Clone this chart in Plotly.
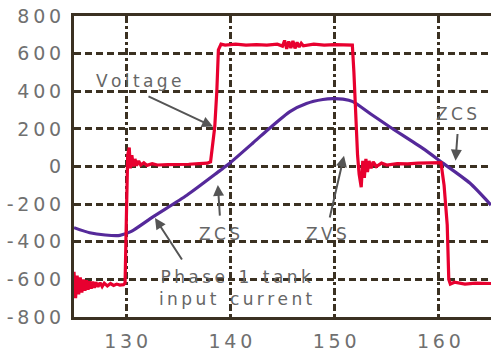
import plotly.graph_objects as go

# Phase voltage (V) sampled over time (µs)
volt_t = [125.0, 125.15, 125.3, 125.45, 125.6, 125.75, 125.9, 126.05, 126.2, 126.35,
          126.5, 126.65, 126.8, 126.95, 127.1, 127.3, 127.5, 127.7, 127.9, 128.2,
          128.5, 128.8, 129.1, 129.4, 129.75, 129.9, 130.05, 130.15, 130.3, 130.4,
          130.55, 130.7, 130.85, 131.0, 131.2, 131.4, 131.7, 132.0, 132.5, 133.0,
          134.0, 135.0, 136.0, 137.0, 137.8, 138.1, 138.3, 138.5, 138.7, 138.85,
          139.1, 139.5, 140.5, 141.5, 142.5, 143.5, 144.5, 145.0, 145.2, 145.4,
          145.6, 145.8, 146.0, 146.2, 146.4, 146.6, 146.8, 147.0, 148.0, 149.0,
          150.0, 151.0, 151.7, 151.85, 152.0, 152.2, 152.35, 152.55, 152.7, 152.85,
          153.0, 153.15, 153.3, 153.5, 153.7, 154.0, 154.5, 155.0, 156.0, 157.0,
          158.0, 159.0, 159.8, 160.2, 160.5, 160.8, 160.95, 161.1, 161.5, 162.5,
          163.5, 165.0]
volt_v = [-560, -700, -580, -680, -590, -670, -600, -660, -605, -655,
          -610, -650, -612, -645, -615, -640, -618, -638, -620, -635,
          -622, -632, -625, -630, -628, -620, -200, 60, 100, -10,
          60, 0, 40, 5, 30, 8, 20, 6, 15, 8,
          10, 10, 12, 15, 18, 25, 120, 210, 400, 620,
          650, 645, 650, 645, 648, 645, 650, 640, 670, 625,
          665, 630, 668, 628, 660, 635, 655, 642, 650, 645,
          648, 645, 645, 500, 300, 60, -40, -110, 30, -60,
          40, -30, 30, -10, 25, 0, 18, 8, 15, 14,
          18, 20, 22, 20, -100, -310, -600, -625, -615, -625,
          -620, -622]

# Phase 1 tank input current (scaled)
curr_t = [125.0, 126.5, 128.0, 129.4, 130.5, 132.57, 135.83, 139.0, 139.77, 142.16,
          143.79, 145.71, 147.3, 148.87, 149.8, 150.8, 151.75, 153.5, 155.3, 158.46,
          160.38, 162.97, 165.0]
curr_v = [-325, -352, -364, -366, -345, -268, -153, -22, 10, 125,
          205, 292, 335, 356, 361, 358, 345, 278, 210, 96,
          18, -88, -205]

y_ticks = [-800, -600, -400, -200, 0, 200, 400, 600, 800]
x_ticks = [130, 140, 150, 160]

SP = "\u2009"      # thin space between letters
WS = SP * 4        # gap between words


def spaced(s):
    return WS.join(SP.join(w) for w in s.split(" "))


INK = "#3b3122"
TXT = "#666666"
FONT = "DejaVu Sans"

fig = go.Figure()
fig.add_trace(go.Scatter(x=curr_t, y=curr_v, mode="lines",
                         line=dict(color="#55299a", width=3.2, shape="spline", smoothing=0.6),
                         hoverinfo="skip"))
fig.add_trace(go.Scatter(x=volt_t, y=volt_v, mode="lines",
                         line=dict(color="#e8002f", width=3.2),
                         hoverinfo="skip"))

ann = []


def label(x, y, text):
    ann.append(dict(x=x, y=y, xref="x", yref="y", text=text, showarrow=False,
                    font=dict(family=FONT, size=17, color=TXT)))


def arrow(x0, y0, x1, y1):
    ann.append(dict(x=x1, y=y1, ax=x0, ay=y0, xref="x", yref="y", axref="x", ayref="y",
                    text="", showarrow=True, arrowhead=2, arrowsize=1.1, arrowwidth=2,
                    arrowcolor="#555555"))


label(131.23, 455, spaced("Voltage"))
arrow(132.0, 377, 138.33, 212)
label(139.0, -357, spaced("ZCS"))
arrow(139.0, -269, 138.8, -98)
label(149.26, -357, spaced("ZVS"))
arrow(149.5, -279, 150.9, 57)
label(161.7, 279, spaced("ZCS"))
arrow(161.8, 181, 161.6, 31)
label(140.53, -645, spaced("Phase 1 tank") + "<br>" + spaced("input current"))
arrow(135.45, -502, 132.77, -274)

fig.update_layout(
    width=491, height=352,
    margin=dict(l=74, r=0, t=16, b=26),
    paper_bgcolor="white", plot_bgcolor="white",
    showlegend=False,
    annotations=ann,
    font=dict(family=FONT, size=19, color="#707070"),
)
fig.update_xaxes(
    range=[125, 165], tickvals=x_ticks, ticktext=[spaced(str(v)) for v in x_ticks],
    showline=True, linecolor=INK, linewidth=3, mirror=True,
    showgrid=True, gridcolor=INK, gridwidth=3, griddash="7px,3px,3px,3px",
    zeroline=False, ticks="", ticklabelstandoff=5,
)
fig.update_yaxes(
    range=[-800, 800], tickvals=y_ticks,
    ticktext=[("-" + SP + spaced(str(-v))) if v < 0 else spaced(str(v)) for v in y_ticks],
    showline=True, linecolor=INK, linewidth=3,
    showgrid=True, gridcolor=INK, gridwidth=3, griddash="7px,4px",
    zeroline=False, ticks="", ticklabelstandoff=6,
)

fig.write_html("out.html")
